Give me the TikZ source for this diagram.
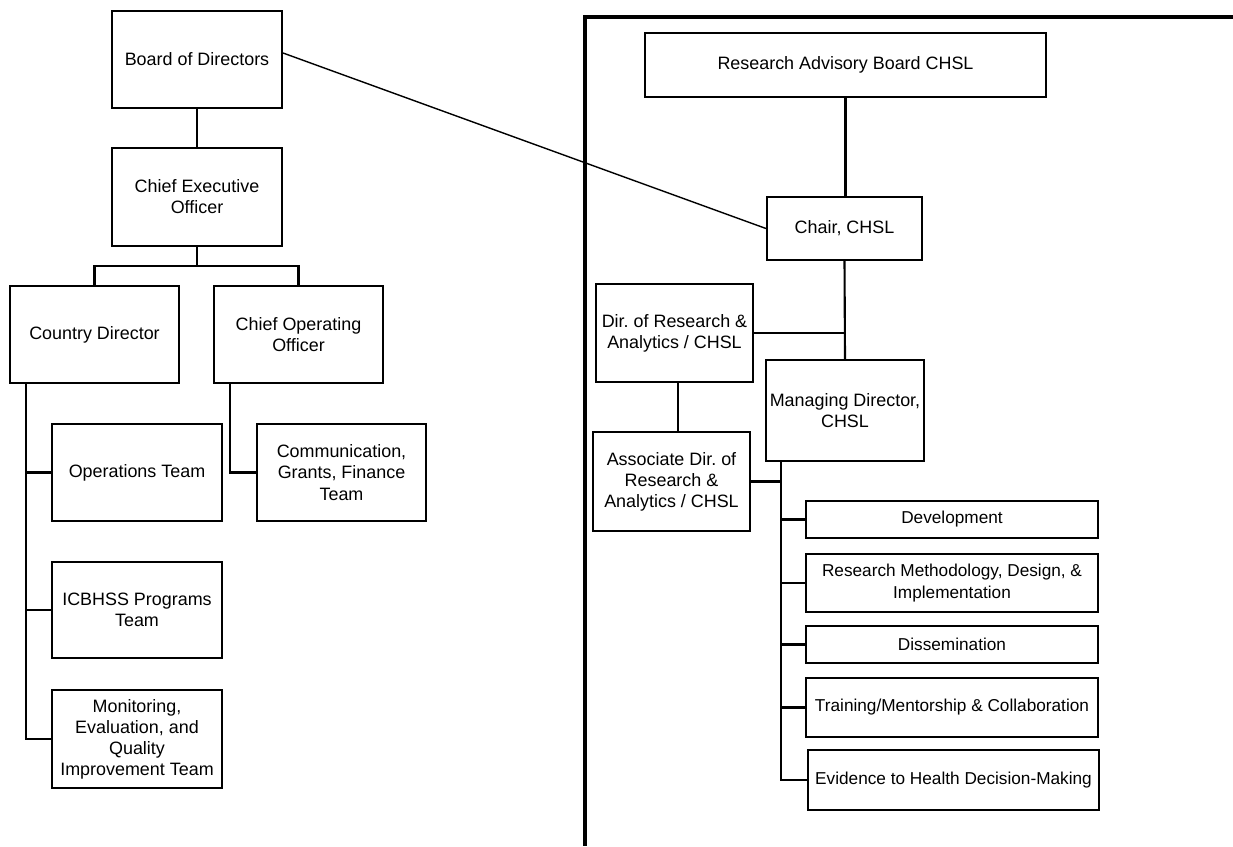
\documentclass[tikz,border=0pt]{standalone}
\usepackage{fontspec}
\setmainfont{Liberation Sans}
\usepackage{tikz}
\usetikzlibrary{positioning,calc}
\frenchspacing

\tikzset{
  unit/.style={draw, line width=1.2pt, align=center, inner sep=2pt,
    font=\fontsize{10.2}{12}\selectfont, minimum width=3.4cm, minimum height=1.94cm},
  narrow/.style={unit, minimum width=3.14cm},
  task/.style={unit, minimum width=5.84cm, inner xsep=1pt, font=\fontsize{9.8}{12}\selectfont},
  link/.style={line width=1.2pt},
}

\begin{document}
\begin{tikzpicture}[x=0.02cm,y=-0.02cm]
		\useasboundingbox (0,0) rectangle (1233,846);
		
		\node[unit]  (Board)   at (197,59.5)   {Board of Directors};
		\node[unit, minimum height=1.96cm]  (CEO) at (197,197) {Chief Executive\\Officer};
		\node[unit, minimum width=3.38cm]  (Country) at (94.5,334.5) {Country Director};
		\node[unit, minimum width=3.38cm]  (COO)     at (298.5,334.5) {Chief Operating\\Officer};
		\node[unit]  (Ops)     at (137,472.5)  {Operations Team};
		\node[unit, minimum width=3.38cm]  (Comm) at (341.5,472.5) {Communication,\\Grants, Finance\\Team};
		\node[unit, minimum height=1.92cm] (ICBHSS) at (137,610) {ICBHSS Programs\\Team};
		\node[unit, minimum height=1.96cm] (Monitor) at (137,739) {Monitoring,\\Evaluation, and\\Quality\\Improvement Team};
		
		\node[unit, minimum width=8.02cm, minimum height=1.28cm] (RAB) at (845.5,65) {Research Advisory Board CHSL};
		\node[unit, minimum width=3.1cm, minimum height=1.26cm]  (Chair) at (844.5,228.5) {Chair, CHSL};
		\node[narrow, minimum height=1.96cm] (DirRA) at (674.5,333) {Dir. of Research \&\\Analytics / CHSL};
		\node[unit, minimum width=3.12cm, minimum height=2.02cm] (MD) at (845,410.5) {Managing Director,\\CHSL};
		\node[narrow, minimum height=1.98cm] (AssocRA) at (671.5,481.5) {Associate Dir. of\\Research \&\\Analytics / CHSL};
		
		\node[task, minimum height=0.74cm] (Dev)   at (952,519.5) {Development};
		\node[task, minimum height=1.16cm] (Method) at (952,583) {Research Methodology, Design, \&\\Implementation};
		\node[task, minimum height=0.74cm] (Dissem) at (952,644.5) {Dissemination};
		\node[task, minimum height=1.18cm] (Train) at (952,707.5) {Training/Mentorship \& Collaboration};
		\node[task, minimum width=5.82cm, minimum height=1.2cm] (Evid) at (953.5,780) {Evidence to Health Decision-Making};
		
		\coordinate (ceofork) at (197,266);
		\coordinate (cdtrunk) at ([xshift=0.34cm]Country.south west);
		\coordinate (cootrunk) at ([xshift=0.34cm]COO.south west);
		\coordinate (mdtrunk) at ([xshift=0.32cm]MD.south west);
		
		\draw[link] (Board) -- (CEO);
		\draw[link] (CEO.south) -- (ceofork);
		\draw[link] (Country.north) |- (ceofork) -| (COO.north);
		\foreach \n in {Ops,ICBHSS,Monitor}
			\draw[link] (cdtrunk) |- (\n.west);
		\draw[link] (cootrunk) |- (Comm.west);
		
		\draw[link] (RAB.south) -- (RAB.south |- Chair.north);
		\draw[link] (Chair.south) -- (MD.north);
		\draw[link] (DirRA.east) -- (DirRA.east -| Chair.south);
		\draw[link] ([xshift=0.07cm]DirRA.south) -- ([xshift=0.07cm]DirRA.south |- AssocRA.north);
		\draw[link] (AssocRA.east) -- (AssocRA.east -| mdtrunk);
		\foreach \n in {Dev,Method,Dissem,Train,Evid}
			\draw[link] (mdtrunk) |- (\n.west);
		
		\draw[line width=0.8pt] ([yshift=0.13cm]Board.east) -- (Chair.west);
		
		\draw[line width=2pt] (1233,17) -- (585,17) -- (585,846);
	\end{tikzpicture}
\end{document}
